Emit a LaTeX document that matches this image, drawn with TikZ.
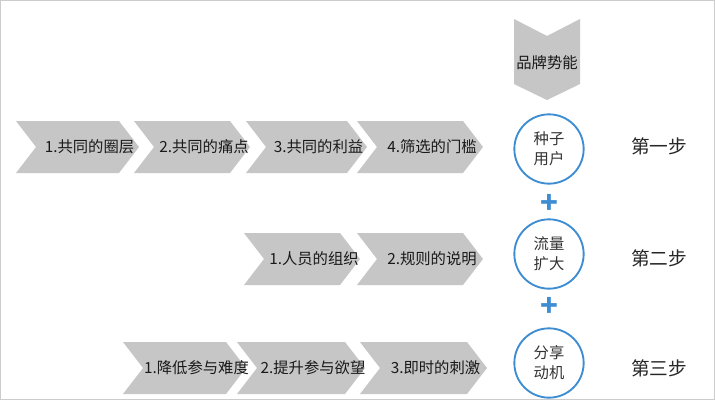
\documentclass[tikz,border=0pt]{standalone}
\usepackage{fontspec}
\setmainfont{Noto Sans CJK SC}
\begin{document}
\begin{tikzpicture}[x=0.75pt,y=-0.75pt,
  chevfill/.style={fill=gray!45},
  chevtext/.style={font=\fontsize{11.5}{13}\selectfont, text=black!90},
  ring/.style={circle, draw=cyan!60!blue!80, line width=1.4pt, fill=white, inner sep=0pt, font=\fontsize{11.5}{15}\selectfont, align=center, text=black!80, minimum size=52pt},
  plus/.style={font=\bfseries\fontsize{22}{22}\selectfont, text=cyan!60!blue!80},
  steptext/.style={font=\fontsize{14}{16}\selectfont, text=black!85}]
\useasboundingbox (0,0) rectangle (715,400);
\fill[white] (0,0) rectangle (715,400);
\draw[gray!40] (0.5,0.5) rectangle (714.5,399.5);
\newcommand{\chev}[6]{% name, x0, xend, yc, half height, text
  \pgfmathsetmacro{\xa}{#2}\pgfmathsetmacro{\xb}{#3-20}\pgfmathsetmacro{\xc}{#3}
  \pgfmathsetmacro{\yt}{#4-#5}\pgfmathsetmacro{\yb}{#4+#5}\pgfmathsetmacro{\xn}{#2+20}
  \fill[chevfill] (\xa,\yt) -- (\xb,\yt) -- (\xc,#4) -- (\xb,\yb) -- (\xa,\yb) -- (\xn,#4) -- cycle;
  \pgfmathsetmacro{\xm}{(#2+#3)/2+12}
  \node[chevtext] (#1) at (\xm,#4) {#6};}
% row 1
\chev{a1}{16}{139}{147}{26}{1.共同的圈层}
\chev{a2}{134}{250}{147}{26}{2.共同的痛点}
\chev{a3}{246}{367}{147}{26}{3.共同的利益}
\chev{a4}{357}{483}{147}{26}{4.筛选的门槛}
% row 2
\chev{b1}{244}{360}{259}{26}{1.人员的组织}
\chev{b2}{357}{483}{259}{26}{2.规则的说明}
% row 3
\chev{c1}{123}{246}{368}{26}{1.降低参与难度}
\chev{c2}{237}{365}{368}{26}{2.提升参与欲望}
\chev{c3}{360}{487}{368}{26}{3.即时的刺激}
% top arrow
\fill[chevfill] (514,19) -- (547,36) -- (580,19) -- (580,84) -- (547,100) -- (514,84) -- cycle;
\node[chevtext] (brand) at (547,63) {品牌势能};
% circles
\node[ring] (s1) at (549,149) {种子\\用户};
\node[ring] (s2) at (549,254) {流量\\扩大};
\node[ring] (s3) at (549,363) {分享\\动机};
\node[plus] (p1) at (549,204) {+};
\node[plus] (p2) at (549,307) {+};
\node[steptext] (t1) at (659,146) {第一步};
\node[steptext] (t2) at (659,258) {第二步};
\node[steptext] (t3) at (659,368) {第三步};
\end{tikzpicture}
\end{document}
